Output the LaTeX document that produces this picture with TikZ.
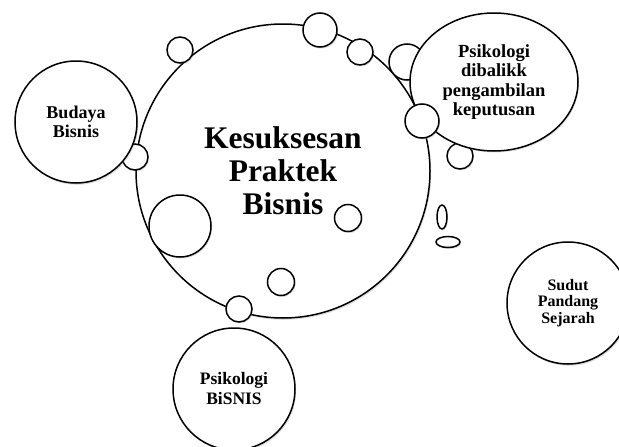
\documentclass[tikz,border=0pt]{standalone}
\usepackage{fontspec}
\setmainfont{Liberation Serif}
\usetikzlibrary{shapes.geometric, shadows}
\tikzset{
  topic/.style  = {circle, draw=black, line width=1.5pt, fill=white,
                   inner sep=0pt, align=center,
                   font=\fontsize{18}{19.5}\selectfont\bfseries,
                   drop shadow={shadow xshift=1.2pt, shadow yshift=-1.8pt,
                                opacity=0.25}},
  core/.style   = {topic, font=\fontsize{31.5}{33}\selectfont\bfseries},
  bead/.style   = {circle, draw=black, line width=1.5pt, fill=white,
                   inner sep=0pt,
                   drop shadow={shadow xshift=1pt, shadow yshift=-1.5pt,
                                opacity=0.25}},
  drop/.style   = {ellipse, draw=black, line width=1.5pt, fill=white,
                   inner sep=0pt,
                   drop shadow={shadow xshift=1pt, shadow yshift=-1.5pt,
                                opacity=0.25}},
}

\begin{document}
\begin{tikzpicture}[x=1pt, y=-1pt]
    \useasboundingbox (0,0) rectangle (619,447);
    \clip (0,0) rectangle (619,447);

    % ── Centre bubble ─────────────────────────────────────────────
    \node[core, minimum size=294pt] (success) at (283,171)
      {Kesuksesan\\ Praktek\\ Bisnis};

    % ── Beads on the rim of the centre bubble ─────────────────────
    \node[bead, minimum size=26pt] (beadA) at (180,50)  {};
    \node[bead, minimum size=34pt] (beadB) at (320,30)  {};
    \node[bead, minimum size=26pt] (beadC) at (360,52)  {};
    \node[bead, minimum size=36pt] (beadD) at (407,62)  {};
    \node[bead, minimum size=26pt] (beadE) at (135,157) {};
    \node[bead, minimum size=26pt] (beadF) at (239,309) {};
    \node[bead, minimum size=26pt] (beadG) at (460,156) {};

    % ── Beads inside the centre bubble ────────────────────────────
    \node[bead, minimum size=62pt] (innerA) at (180,226) {};
    \node[bead, minimum size=27pt] (innerB) at (348,218) {};
    \node[bead, minimum size=27pt] (innerC) at (281,282) {};

    % ── Small drops ───────────────────────────────────────────────
    \node[drop, minimum width=10pt, minimum height=24pt] (dropA) at (442,217) {};
    \node[drop, minimum width=24pt, minimum height=11pt] (dropB) at (448,242) {};

    % ── Outer topics ──────────────────────────────────────────────
    \node[topic, minimum size=122pt] (culture) at (76,122)
      {Budaya\\ Bisnis};

    \node[drop, minimum width=168pt, minimum height=138pt, align=center,
          font=\fontsize{18.5}{19.5}\selectfont\bfseries] (decision) at (494,82)
      {Psikologi\\ dibalikk\\ pengambilan\\ keputusan};

    \node[bead, minimum size=34pt] (beadH) at (422,121) {};

    \node[topic, minimum size=122pt,
          font=\fontsize{17.5}{20}\selectfont\bfseries] (psych) at (234,389)
      {Psikologi\\ BiSNIS};

    \node[topic, minimum size=122pt,
          font=\fontsize{16}{16.5}\selectfont\bfseries] (history) at (568,303)
      {Sudut\\ Pandang\\ Sejarah};

\end{tikzpicture}
\end{document}
